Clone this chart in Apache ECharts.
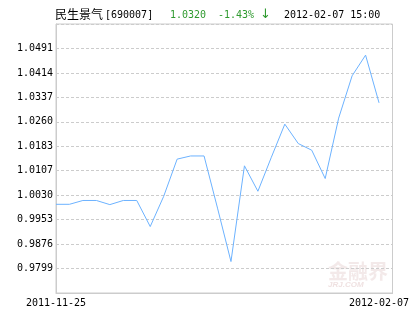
<!DOCTYPE html>
<html>
<head>
<meta charset="utf-8">
<script src="https://cdn.jsdelivr.net/npm/echarts@6/dist/echarts.min.js"></script>
<style>
html,body{margin:0;padding:0;background:#fff;}
#c{width:415px;height:330px;}
</style>
</head>
<body>
<div id="c"></div>
<script>
var dates = ['2011-11-25','2011-11-29','2011-12-01','2011-12-05','2011-12-07','2011-12-09','2011-12-13','2011-12-15','2011-12-19','2011-12-21','2011-12-23','2011-12-27','2011-12-29','2012-01-05','2012-01-09','2012-01-11','2012-01-13','2012-01-17','2012-01-19','2012-01-31','2012-02-01','2012-02-02','2012-02-03','2012-02-06','2012-02-07'];
var nav = [1.0001,1.0001,1.0013,1.0013,1.0000,1.0013,1.0013,0.9931,1.0026,1.0143,1.0153,1.0153,0.9989,0.9821,1.0122,1.0042,1.0149,1.0253,1.0192,1.0171,1.0082,1.0272,1.0405,1.0470,1.0320];
var yTickLabels = ['0.9799','0.9876','0.9953','1.0030','1.0107','1.0183','1.0260','1.0337','1.0414','1.0491'];
var titleName = '民生景气';
var titleCode = '[690007]';
var titleValue = '1.0320';
var titleChange = '-1.43%';
var titleArrow = '\u2193';
var titleTime = '2012-02-07 15:00';

var step = (parseFloat(yTickLabels[yTickLabels.length-1]) - parseFloat(yTickLabels[0])) / (yTickLabels.length - 1);
var yMin = parseFloat(yTickLabels[0]) - step;
var yMax = yMin + step * (yTickLabels.length + 1);
var mono = '"DejaVu Sans Mono", monospace';
var green = '#2f9a2f';

var chart = echarts.init(document.getElementById('c'), null, {renderer:'canvas'});
chart.setOption({
  animation: false,
  grid: {left: 56, right: 22.5, top: 24, bottom: 37, show: true, borderColor: '#cccccc', borderWidth: 1},
  xAxis: {
    type: 'category',
    data: dates,
    boundaryGap: false,
    max: dates.length,
    axisLine: {show: true, lineStyle: {color: '#cccccc', width: 1}},
    axisTick: {show: false},
    splitLine: {show: false},
    axisLabel: {
      color: '#000', fontFamily: mono, fontSize: 10, margin: 5,
      interval: function(i){ return i === 0 || i === dates.length - 1; },
      formatter: function(v){ return v || ''; }
    }
  },
  yAxis: {
    type: 'value',
    min: yMin, max: yMax, interval: step,
    axisLine: {show: true, lineStyle: {color: '#cccccc', width: 1}},
    axisTick: {show: false},
    splitLine: {show: true, lineStyle: {color: '#cccccc', type: [3, 2], width: 1}},
    axisLabel: {
      color: '#000', fontFamily: mono, fontSize: 10, margin: 3,
      formatter: function(v){
        for (var i = 0; i < yTickLabels.length; i++) {
          if (Math.abs(parseFloat(yTickLabels[i]) - v) < step / 3) return yTickLabels[i];
        }
        return '';
      }
    }
  },
  series: [{
    type: 'line', data: nav, symbol: 'none', smooth: false,
    lineStyle: {color: '#6cb2ff', width: 1}
  }],
  graphic: [
    {type: 'text', left: 328, top: 261, z: 0, style: {text: '金融界', fill: 'rgba(225,200,200,0.4)', font: 'bold 20px "Noto Sans CJK SC"'}},
    {type: 'text', left: 328, top: 281, z: 0, style: {text: 'JRJ.COM', fill: 'rgba(225,200,200,0.55)', font: 'italic bold 8px "Liberation Sans"'}},
    {type: 'text', left: 55, top: 8, style: {text: titleName, fill: '#000', font: '12px "Noto Sans CJK SC"'}},
    {type: 'text', left: 105, top: 10, style: {text: titleCode, fill: '#000', font: '10px ' + mono}},
    {type: 'text', left: 170, top: 10, style: {text: titleValue, fill: green, font: '10px ' + mono}},
    {type: 'text', left: 218, top: 10, style: {text: titleChange, fill: green, font: '10px ' + mono}},
    {type: 'text', left: 260, top: 8, style: {text: titleArrow, fill: green, font: '13px "DejaVu Sans"'}},
    {type: 'text', left: 284, top: 10, style: {text: titleTime, fill: '#000', font: '10px ' + mono}}
  ]
});
</script>
</body>
</html>
